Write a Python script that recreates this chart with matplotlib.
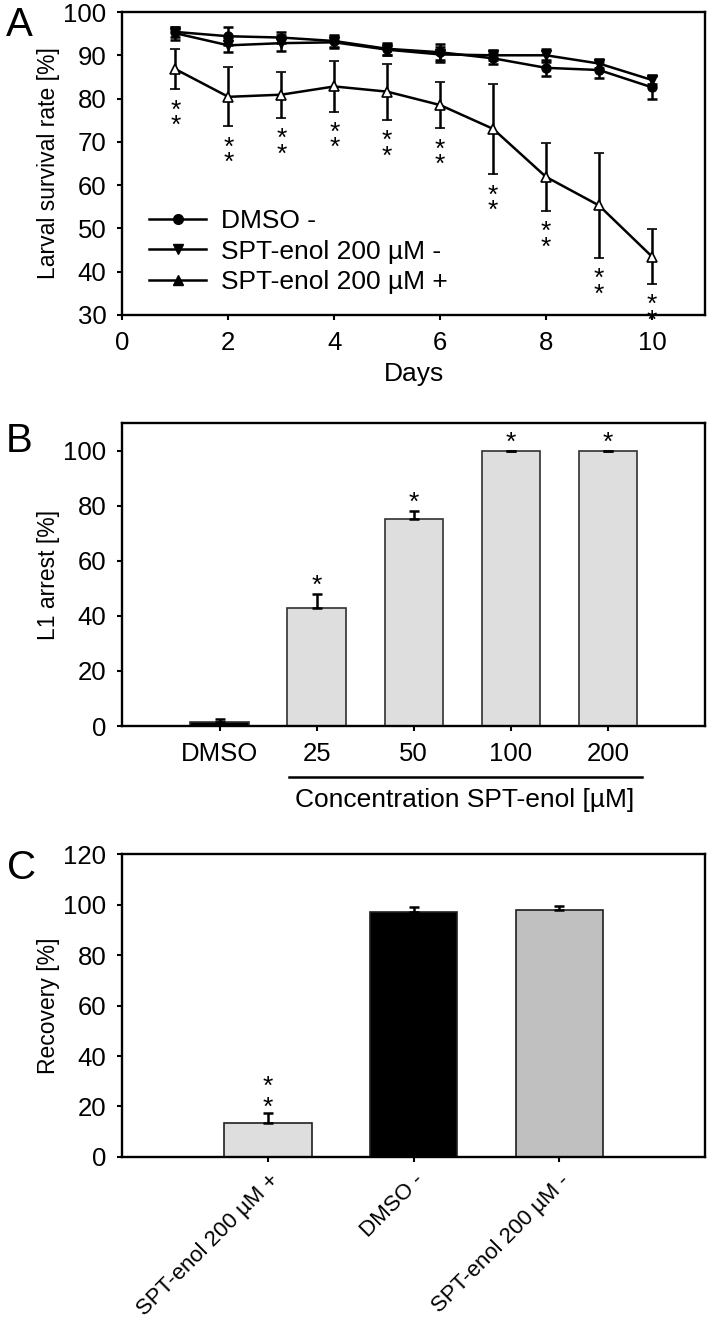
import numpy as np
import matplotlib.pyplot as plt
from matplotlib.lines import Line2D

plt.rcParams['font.family'] = ['Liberation Sans', 'DejaVu Sans']

# ---- data ----
days = np.arange(1, 11)
dmso_mean = [95.4, 94.4, 94.1, 93.3, 91.5, 90.7, 89.3, 87.1, 86.6, 82.6]
dmso_err = [1.2, 2.1, 1.2, 1.4, 1.4, 1.8, 1.2, 1.8, 1.9, 2.8]
spt_minus_mean = [95.1, 92.3, 92.8, 93.0, 91.3, 90.2, 90.0, 90.0, 88.1, 84.3]
spt_minus_err = [1.5, 1.6, 1.9, 1.4, 1.3, 1.7, 1.2, 1.5, 1.0, 1.0]
spt_plus_mean = [86.8, 80.4, 80.9, 82.8, 81.6, 78.5, 73.0, 61.9, 55.3, 43.5]
spt_plus_err = [4.6, 6.8, 5.3, 5.8, 6.5, 5.4, 10.4, 7.8, 12.1, 6.3]
legend_labels = ['DMSO -', 'SPT-enol 200 µM -', 'SPT-enol 200 µM +']

conc_labels = ['DMSO', '25', '50', '100', '200']
arrest_mean = [1.5, 42.8, 75.1, 100.0, 100.0]
arrest_err = [1.0, 5.3, 3.0, 0.0, 0.0]
arrest_sig = [False, True, True, True, True]
arrest_colors = ['#000000', '#dedede', '#dedede', '#dedede', '#dedede']

rec_labels = ['SPT-enol 200 µM +', 'DMSO -', 'SPT-enol 200 µM -']
rec_mean = [13.4, 97.2, 98.0]
rec_err = [4.0, 1.7, 1.3]
rec_colors = ['#dedede', '#000000', '#c0c0c0']

FS_TICK = 18.5   # horizontal tick labels
FS_TXT = 19      # horizontal texts (legend, x labels)
FS_YLAB = 16.5   # rotated axis titles
STAR_FS = 19
LW = 1.7


def style(ax):
    for s in ax.spines.values():
        s.set_linewidth(LW)
    ax.tick_params(direction='out', length=3.6, width=1.5, labelsize=FS_TICK, pad=8)


def star(ax, x, y, off_pt):
    # off_pt = where the centre of the asterisk glyph sits, relative to (x, y)
    ax.annotate('*', (x, y), xytext=(0, off_pt - 0.58 * STAR_FS),
                textcoords='offset points', ha='center', va='baseline',
                fontsize=STAR_FS, annotation_clip=False)


fig = plt.figure(figsize=(7.12, 13.2), dpi=100)
L, W, H = 0.172, 0.818, 0.2295

# ---- A ----
axA = fig.add_axes([L, 0.7614, W, H])
eb = dict(color='k', lw=1.8, capsize=3.6, capthick=1.8, elinewidth=1.8)
axA.errorbar(days, dmso_mean, yerr=dmso_err, marker='o', ms=6.5, mfc='k', **eb)
axA.errorbar(days, spt_minus_mean, yerr=spt_minus_err, marker='v', ms=7, mfc='k', **eb)
axA.errorbar(days, spt_plus_mean, yerr=spt_plus_err, marker='^', ms=7,
             mfc='white', mec='k', mew=1.2, **eb)
for d, m, e in zip(days, spt_plus_mean, spt_plus_err):
    star(axA, d, m - e, -9.5)
    star(axA, d, m - e, -20.5)
axA.set_xlim(0, 11)
axA.set_ylim(30, 100)
axA.set_xticks(range(0, 11, 2))
axA.set_yticks(range(30, 101, 10))
axA.set_xlabel('Days', fontsize=FS_TXT, labelpad=5)
axA.set_ylabel('Larval survival rate [%]', fontsize=FS_YLAB)
axA.yaxis.set_label_coords(-0.108, 0.5)
style(axA)
handles = [Line2D([], [], color='k', lw=1.8, marker=mk, ms=7, mfc='k')
           for mk in ['o', 'v', '^']]
axA.legend(handles, legend_labels, loc='upper left', bbox_to_anchor=(0.046, 0.35),
           frameon=False, fontsize=FS_TXT, borderpad=0, borderaxespad=0,
           handlelength=2.15, handletextpad=0.57, labelspacing=0.25)

# ---- B ----
axB = fig.add_axes([L, 0.45, W, H])
xb = np.arange(len(conc_labels))
axB.bar(xb, arrest_mean, width=0.6, color=arrest_colors, edgecolor='#303030', lw=1.2, zorder=2)
axB.errorbar(xb, arrest_mean, yerr=[np.zeros(len(xb)), arrest_err], fmt='none',
             ecolor='k', elinewidth=1.8, capsize=3.6, capthick=1.8, zorder=3)
for x, m, e, s in zip(xb, arrest_mean, arrest_err, arrest_sig):
    if s:
        star(axB, x, m + e, 11.5)
axB.set_xlim(-1, 5)
axB.set_ylim(0, 110)
axB.set_xticks(xb)
axB.set_xticklabels(conc_labels)
axB.set_yticks(range(0, 101, 20))
axB.set_ylabel('L1 arrest [%]', fontsize=FS_YLAB)
axB.yaxis.set_label_coords(-0.108, 0.5)
style(axB)
axB.plot([0.72, 4.35], [-0.168, -0.168], color='k', lw=1.8, clip_on=False,
         transform=axB.get_xaxis_transform())
axB.text(2.53, -0.245, 'Concentration SPT-enol [µM]', ha='center', va='center',
         fontsize=FS_TXT, transform=axB.get_xaxis_transform())

# ---- C ----
axC = fig.add_axes([L, 0.1235, W, H])
xc = np.arange(len(rec_labels))
axC.bar(xc, rec_mean, width=0.6, color=rec_colors, edgecolor='#202020', lw=1.2, zorder=2)
axC.errorbar(xc, rec_mean, yerr=[np.zeros(len(xc)), rec_err], fmt='none',
             ecolor='k', elinewidth=1.8, capsize=3.6, capthick=1.8, zorder=3)
star(axC, xc[0], rec_mean[0] + rec_err[0], 9.5)
star(axC, xc[0], rec_mean[0] + rec_err[0], 25)
axC.set_xlim(-1, 3)
axC.set_ylim(0, 120)
axC.set_xticks(xc)
axC.set_yticks(range(0, 121, 20))
axC.set_ylabel('Recovery [%]', fontsize=FS_YLAB)
axC.yaxis.set_label_coords(-0.108, 0.5)
style(axC)
axC.set_xticklabels(rec_labels, rotation=45, ha='right', rotation_mode='anchor', fontsize=16)
axC.tick_params(axis='x', pad=6)

# panel letters
fig.text(19 / 712, 1 - 25 / 1320, 'A', fontsize=29, ha='center', va='center')
fig.text(19 / 712, 1 - 441 / 1320, 'B', fontsize=29, ha='center', va='center')
fig.text(22 / 712, 1 - 868 / 1320, 'C', fontsize=29, ha='center', va='center')

fig.savefig('out.png', dpi=100)
